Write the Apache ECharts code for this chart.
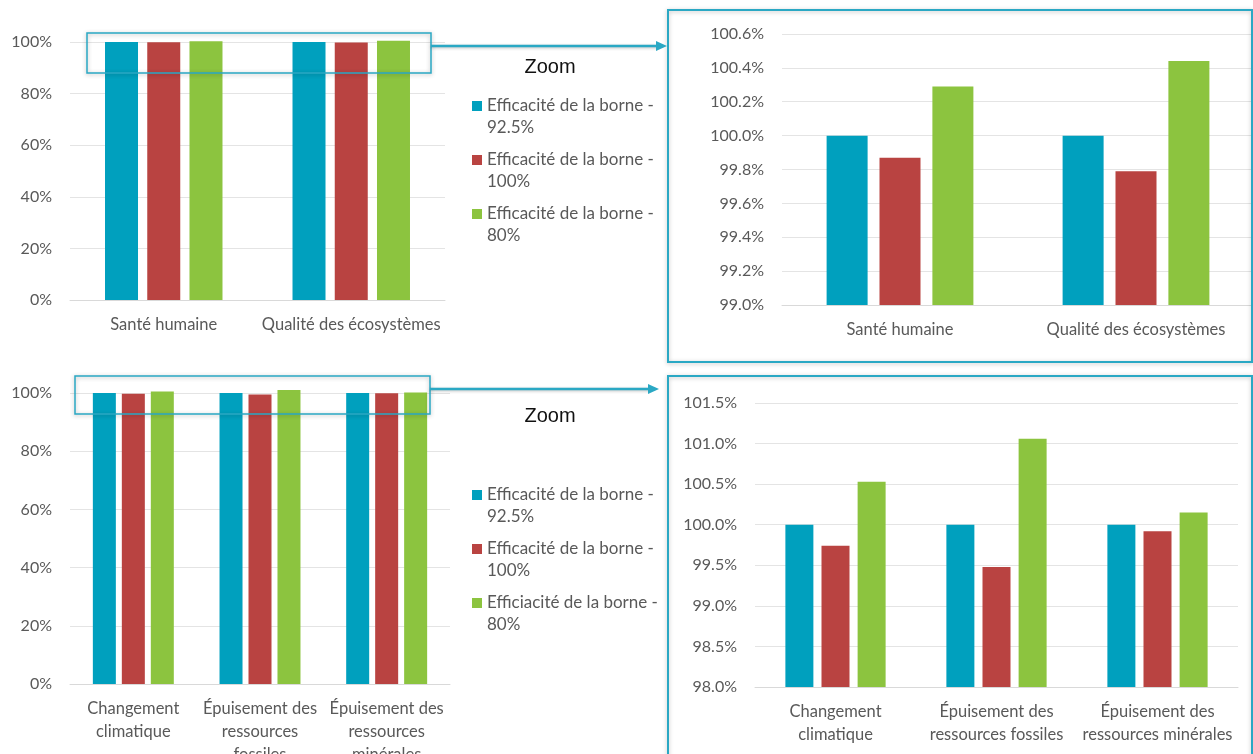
<!DOCTYPE html>
<html>
<head>
<meta charset="utf-8">
<script src="https://cdn.jsdelivr.net/npm/echarts@6/dist/echarts.min.js"></script>
<style>
html,body{margin:0;padding:0;background:#ffffff;}
#chart{width:1253px;height:754px;}
</style>
</head>
<body>
<div id="chart"></div>
<script>
// ---- Data ----
const categoriesTop = ['Santé humaine', 'Qualité des écosystèmes'];
const categoriesBottomLeft = ['Changement\nclimatique', 'Épuisement des\nressources\nfossiles', 'Épuisement des\nressources\nminérales'];
const categoriesBottomRight = ['Changement\nclimatique', 'Épuisement des\nressources fossiles', 'Épuisement des\nressources minérales'];

const seriesNamesTop = ['Efficacité de la borne - 92.5%', 'Efficacité de la borne - 100%', 'Efficacité de la borne - 80%'];
const seriesNamesBottom = ['Efficacité de la borne - 92.5%', 'Efficacité de la borne - 100%', 'Efficiacité de la borne - 80%'];

const top925 = [100, 100];
const top100 = [99.87, 99.79];
const top80 = [100.29, 100.44];

const bottom925 = [100, 100, 100];
const bottom100 = [99.74, 99.48, 99.92];
const bottom80 = [100.53, 101.06, 100.15];

const zoomLabel = 'Zoom';

// ---- Styling ----
const FONT = 'Lato';
const COLORS = ['#00a0be', '#b94341', '#8cc43f'];
const TEXT = '#595959';
const FRAME = '#2aa8c4';

const chart = echarts.init(document.getElementById('chart'), null, {renderer: 'canvas'});

function yAxis(gridIndex, min, max, interval, digits) {
  return {
    type: 'value', gridIndex, min, max, interval,
    axisLine: {show: false}, axisTick: {show: false},
    splitLine: {lineStyle: {color: '#e4e4e4', width: 1}},
    axisLabel: {color: TEXT, fontFamily: FONT, fontSize: 16, margin: 18,
      formatter: v => v.toFixed(digits) + '%'}
  };
}
function xAxis(gridIndex, data) {
  return {
    type: 'category', gridIndex, data,
    axisLine: {lineStyle: {color: '#d9d9d9'}}, axisTick: {show: false},
    axisLabel: {color: TEXT, fontFamily: FONT, fontSize: 16.5, margin: 13, lineHeight: 23, interval: 0}
  };
}
function bars(idx, names, arrays, barWidth, barGap, clip) {
  return arrays.map((arr, i) => ({
    type: 'bar', name: names[i], xAxisIndex: idx, yAxisIndex: idx,
    data: arr, barWidth, barGap, clip,
    itemStyle: {color: COLORS[i]}
  }));
}

// square icon sitting at the top of a taller item box, so it lines up with the first text line
const LEGEND_ICON = 'path://M0,0L10,0L10,10L0,10Z M0,32L0.001,32Z';
const legendText = {color: TEXT, fontFamily: FONT, fontSize: 17, lineHeight: 22};
function legend(names, top) {
  return {
    data: names, orient: 'vertical', left: 472, top, padding: 0,
    icon: LEGEND_ICON, itemWidth: 10, itemHeight: 32, itemGap: 10, selectedMode: false,
    formatter: n => n.replace(' - ', ' -\n'), textStyle: legendText
  };
}

const option = {
  animation: false,
  backgroundColor: '#ffffff',
  grid: [
    {left: 70, top: 42, width: 375, height: 258, outerBoundsMode: 'none'},
    {left: 782, top: 34, width: 472, height: 271, outerBoundsMode: 'none'},
    {left: 70, top: 393, width: 380, height: 291, outerBoundsMode: 'none'},
    {left: 755, top: 403, width: 483, height: 284, outerBoundsMode: 'none'}
  ],
  xAxis: [
    xAxis(0, categoriesTop),
    xAxis(1, categoriesTop),
    xAxis(2, categoriesBottomLeft),
    xAxis(3, categoriesBottomRight)
  ],
  yAxis: [
    yAxis(0, 0, 100, 20, 0),
    yAxis(1, 99, 100.6, 0.2, 1),
    yAxis(2, 0, 100, 20, 0),
    yAxis(3, 98, 101.5, 0.5, 1)
  ],
  legend: [legend(seriesNamesTop, 95), legend(seriesNamesBottom, 484)],
  series: [
    ...bars(0, seriesNamesTop, [top925, top100, top80], 33, '28%', false),
    ...bars(1, seriesNamesTop, [top925, top100, top80], 41, '29%', true),
    ...bars(2, seriesNamesBottom, [bottom925, bottom100, bottom80], 23, '26%', false),
    ...bars(3, seriesNamesBottom, [bottom925, bottom100, bottom80], 28, '29%', true)
  ],
  graphic: [
    // zoom frames
    {type: 'rect', z: 1, shape: {x: 668, y: 10, width: 584, height: 352},
     style: {fill: 'none', stroke: FRAME, lineWidth: 2, shadowBlur: 4, shadowColor: 'rgba(0,0,0,0.25)', shadowOffsetY: 1}},
    {type: 'rect', z: 1, shape: {x: 668, y: 376, width: 584, height: 390},
     style: {fill: 'none', stroke: FRAME, lineWidth: 2, shadowBlur: 4, shadowColor: 'rgba(0,0,0,0.25)', shadowOffsetY: 1}},
    // selection rectangles
    {type: 'rect', z: 100, shape: {x: 87, y: 33, width: 344, height: 40},
     style: {fill: 'none', stroke: FRAME, lineWidth: 1.5, shadowBlur: 4, shadowColor: 'rgba(0,0,0,0.3)', shadowOffsetY: 1}},
    {type: 'rect', z: 100, shape: {x: 75, y: 376, width: 355, height: 38},
     style: {fill: 'none', stroke: FRAME, lineWidth: 1.5, shadowBlur: 4, shadowColor: 'rgba(0,0,0,0.3)', shadowOffsetY: 1}},
    // arrows
    {type: 'line', z: 100, shape: {x1: 431, y1: 46, x2: 658, y2: 46},
     style: {stroke: FRAME, lineWidth: 2.5, shadowBlur: 3, shadowColor: 'rgba(0,0,0,0.25)', shadowOffsetY: 1}},
    {type: 'polygon', z: 100, shape: {points: [[656, 41], [667, 46], [656, 51]]}, style: {fill: FRAME}},
    {type: 'line', z: 100, shape: {x1: 430, y1: 389, x2: 650, y2: 389},
     style: {stroke: FRAME, lineWidth: 2.5, shadowBlur: 3, shadowColor: 'rgba(0,0,0,0.25)', shadowOffsetY: 1}},
    {type: 'polygon', z: 100, shape: {points: [[648, 384], [659, 389], [648, 394]]}, style: {fill: FRAME}},
    // Zoom labels
    {type: 'text', z: 100, style: {text: zoomLabel, x: 550, y: 67, align: 'center', verticalAlign: 'middle',
      fill: '#111111', fontFamily: 'Liberation Sans', fontSize: 20}},
    {type: 'text', z: 100, style: {text: zoomLabel, x: 550, y: 416, align: 'center', verticalAlign: 'middle',
      fill: '#111111', fontFamily: 'Liberation Sans', fontSize: 20}}
  ]
};
chart.setOption(option);
</script>
</body>
</html>
